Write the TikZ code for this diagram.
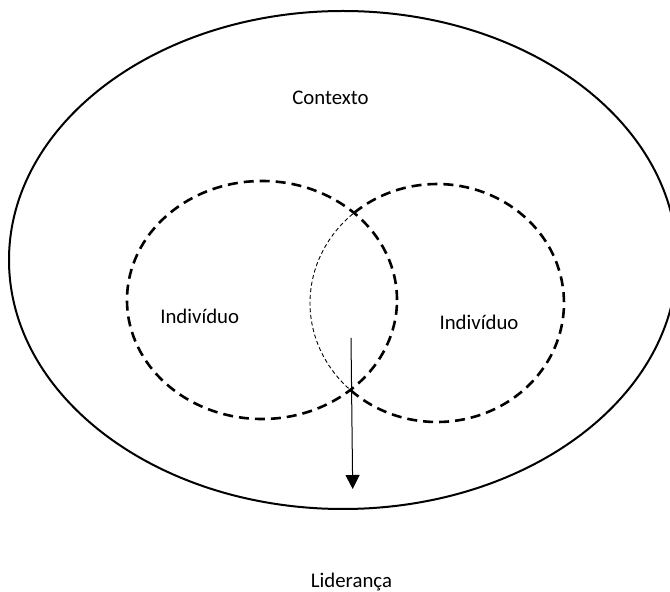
\documentclass[tikz,border=0pt]{standalone}
\usepackage{fontspec}
\setmainfont{Carlito}
\usetikzlibrary{arrows.meta}
\begin{document}
\begin{tikzpicture}[x=1pt,y=1pt,
  outer/.style={line width=2pt},
  thickdash/.style={line width=2.6pt, dash pattern=on 10pt off 6pt},
  thindash/.style={line width=0.9pt, dash pattern=on 4pt off 2.7pt},
  lbl/.style={anchor=base, inner sep=0pt, font=\fontsize{20.8}{25}\selectfont},
  arr/.style={line width=1pt, -{Triangle[length=14pt,width=14pt]}}]
\useasboundingbox (0,0) rectangle (670,592);
\coordinate (ctx) at (343,332);
\coordinate (lc) at (262,292);
\coordinate (rc) at (437,289);
\draw[outer] (ctx) ellipse [x radius=334pt, y radius=249pt];
\draw[thickdash] (lc) ellipse [x radius=135pt, y radius=119pt];
\draw[thickdash] ([shift={(-132.8:127pt and 119pt)}]rc) arc[start angle=-132.8, end angle=131.6, x radius=127pt, y radius=119pt];
\draw[thindash] ([shift={(131.6:127pt and 119pt)}]rc) arc[start angle=131.6, end angle=227.2, x radius=127pt, y radius=119pt];
\coordinate (as) at (351,254);
\coordinate (ae) at (352.7,103);
\draw[arr] (as) -- (ae);
\node[lbl] (contexto) at (330.5,487.7) {Contexto};
\node[lbl] (ind1) at (199.7,268.7) {Indivíduo};
\node[lbl] (ind2) at (479,262.7) {Indivíduo};
\node[lbl] (lid) at (351.5,4) {Liderança};
\end{tikzpicture}
\end{document}
